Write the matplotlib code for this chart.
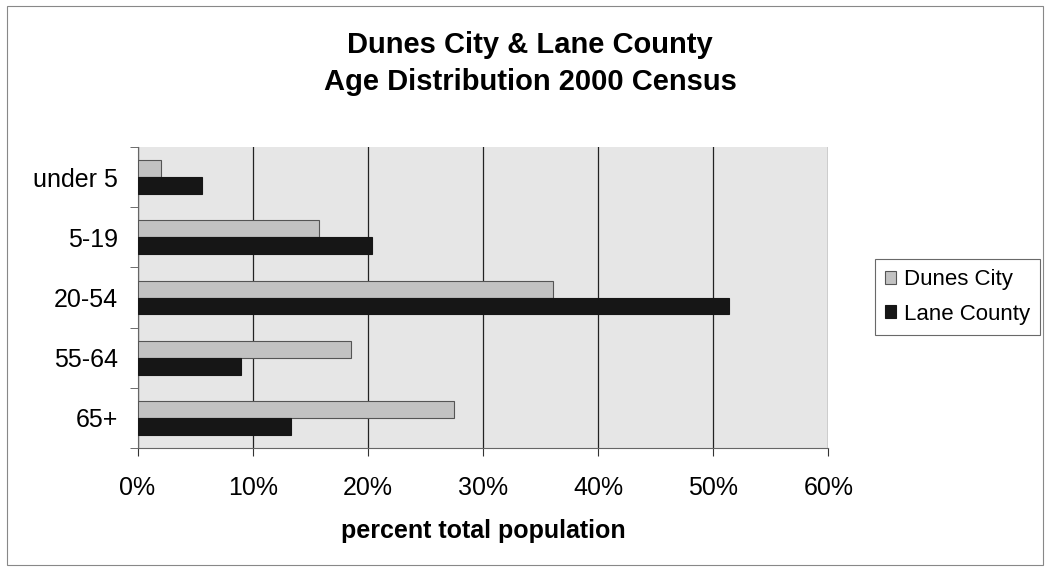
import matplotlib
matplotlib.use("Agg")
import matplotlib.pyplot as plt
from matplotlib.patches import Rectangle
from matplotlib.ticker import FixedLocator, PercentFormatter

plt.rcParams['font.family'] = ['Liberation Sans', 'DejaVu Sans']

# data
ages = ["under 5", "5-19", "20-54", "55-64", "65+"]
dunes_city = [2.0, 15.8, 36.1, 18.5, 27.5]
lane_county = [5.6, 20.4, 51.4, 9.0, 13.3]

fig = plt.figure(figsize=(10.5, 5.7), dpi=100)
ax = fig.add_axes([0.131, 0.214, 0.658, 0.528])
ax.set_facecolor("#e6e6e6")

h = 0.28
pos = list(range(len(ages)))
ax.barh([p - h / 2 for p in pos], dunes_city, height=h, color="#c2c2c2",
        edgecolor="#555555", linewidth=0.8, label="Dunes City", zorder=3)
ax.barh([p + h / 2 for p in pos], lane_county, height=h, color="#161616",
        edgecolor="#161616", linewidth=0.8, label="Lane County", zorder=3)

ax.set_xlim(0, 60)
ax.set_ylim(len(ages) - 0.5, -0.5)
ax.set_xticks(range(0, 61, 10))
ax.xaxis.set_major_formatter(PercentFormatter(decimals=0))
ax.set_yticks(pos)
ax.set_yticklabels(ages)
ax.yaxis.set_minor_locator(FixedLocator([p + 0.5 for p in pos[:-1]] + [-0.5, len(ages) - 0.5]))
ax.tick_params(axis="y", which="major", length=0, pad=14, labelsize=18)
ax.tick_params(axis="y", which="minor", length=6, color="#555555")
ax.tick_params(axis="x", length=6, pad=14, labelsize=18, color="#333333")

ax.grid(axis="x", color="#222222", linewidth=0.9, zorder=1)
for s in ["top", "right"]:
    ax.spines[s].set_visible(False)
ax.spines["left"].set_color("#666666")
ax.spines["bottom"].set_color("#666666")

ax.set_xlabel("percent total population", fontsize=18, fontweight="bold", labelpad=14)

fig.text(0.505, 0.921, "Dunes City & Lane County", ha="center", va="center",
         fontsize=21, fontweight="bold")
fig.text(0.505, 0.856, "Age Distribution 2000 Census", ha="center", va="center",
         fontsize=21, fontweight="bold")

leg = fig.legend(loc="center left", bbox_to_anchor=(0.833, 0.479), fontsize=16,
                 frameon=True, fancybox=False, edgecolor="#444444",
                 handlelength=0.5, handleheight=0.5, handletextpad=0.35,
                 borderpad=0.45, borderaxespad=0, labelspacing=0.6)
leg.get_frame().set_linewidth(0.8)

fig.patches.append(Rectangle((0.007, 0.008), 0.986, 0.982, transform=fig.transFigure,
                             fill=False, edgecolor="#888888", linewidth=0.8))

fig.savefig("out.png", dpi=100)
